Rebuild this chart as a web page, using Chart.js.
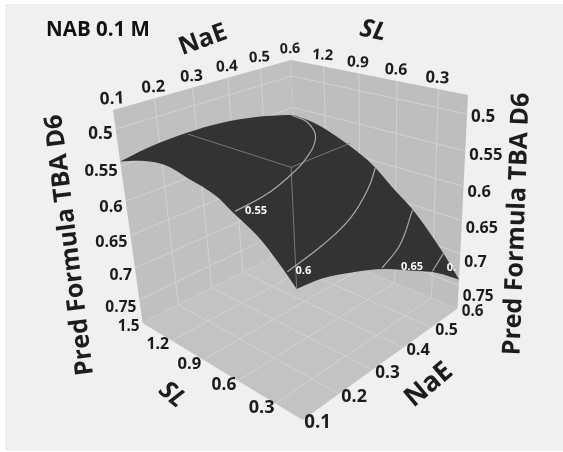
<!DOCTYPE html>
<html>
<head>
<meta charset="utf-8">
<script src="https://cdn.jsdelivr.net/npm/chart.js@4/dist/chart.umd.js"></script>
<style>
  html, body { margin: 0; background: #fff; }
  #panel { position: absolute; left: 5px; top: 4px; width: 558px; height: 447px; background: #f0f0f0; }
  #c { position: absolute; left: 0; top: 0; filter: blur(0.35px); }
</style>
</head>
<body>
<div id="panel"></div>
<canvas id="c" width="563" height="452"></canvas>
<script>
const naeTicks = [0.1, 0.2, 0.3, 0.4, 0.5, 0.6];
const slTicks = [1.5, 1.2, 0.9, 0.6, 0.3];
const predTicks = [0.5, 0.55, 0.6, 0.65, 0.7, 0.75];

// surface edges
const backNaE = [0.1, 0.17, 0.273, 0.373, 0.483, 0.581, 0.6];
const backPred = [0.544, 0.538, 0.535, 0.537, 0.546, 0.559, 0.562];
const rightSL = [1.5, 1.34, 1.16, 0.98, 0.79, 0.62, 0.46, 0.3, 0.19, 0.1];
const rightPred = [0.562, 0.565, 0.574, 0.588, 0.607, 0.634, 0.658, 0.691, 0.717, 0.741];
const leftSL = [1.5, 1.25, 1.06, 0.87, 0.66, 0.53, 0.35, 0.22, 0.1];
const leftPred = [0.544, 0.53, 0.525, 0.531, 0.539, 0.552, 0.57, 0.591, 0.614];
const frontNaE = [0.1, 0.165, 0.245, 0.338, 0.429, 0.514, 0.6];
const frontPred = [0.614, 0.619, 0.633, 0.654, 0.681, 0.707, 0.741];

// contours
const c55NaE = [0.1, 0.183, 0.271, 0.358, 0.469, 0.535, 0.555];
const c55SL = [0.51, 0.54, 0.62, 0.73, 0.94, 1.18, 1.39];
const c60NaE = [0.104, 0.216, 0.333, 0.469, 0.571];
const c60SL = [0.17, 0.23, 0.33, 0.52, 0.7];
const c65NaE = [0.329, 0.426, 0.578];
const c65SL = [0.1, 0.19, 0.42];
const c70NaE = [0.497, 0.578];
const c70SL = [0.1, 0.18];

const naeMin = 0.1, naeMax = 0.6, slMin = 0.1, slMax = 1.5, predTop = 0.475, predBottom = 0.788;

// view: far top corner and its three neighbours, with perspective weights
const O = [291, 60], PA = [113, 110], PC = [468, 95], PG = [299, 244];
const wa = -0.175, wb = -0.17, wc = 0.105;

function weights(nae, sl, pred) {
  const u = (naeMax - nae) / (naeMax - naeMin);
  const v = (slMax - sl) / (slMax - slMin);
  const z = (pred - predTop) / (predBottom - predTop);
  return { u, v, z, w: 1 + wa * u + wb * v + wc * z };
}

function project(nae, sl, pred) {
  const { u, v, z, w } = weights(nae, sl, pred);
  const at = i => (O[i] + u * ((1 + wa) * PA[i] - O[i]) + v * ((1 + wb) * PC[i] - O[i]) + z * ((1 + wc) * PG[i] - O[i])) / w;
  return { x: at(0), y: at(1) };
}

const pts = (list) => list.map(p => project(p[0], p[1], p[2]));

const shape = (data, color, tension) => ({ data, showLine: true, fill: 'shape', tension: tension || 0, backgroundColor: color, borderColor: color, borderWidth: 0, pointRadius: 0 });
const line = (data, color, width, tension) => ({ data, showLine: true, fill: false, tension: tension || 0, borderColor: color, borderWidth: width, pointRadius: 0 });

const WALL = '#c0c0c0', GRID = '#d2d2d2', CONTOUR = '#a9a9a9', EDGE = '#777777';
const layers = [];

// walls and floor
layers.push(shape(pts([[naeMin, slMax, predTop], [naeMax, slMax, predTop], [naeMax, slMax, predBottom], [naeMin, slMax, predBottom]]), WALL));
layers.push(shape(pts([[naeMax, slMax, predTop], [naeMax, slMin, predTop], [naeMax, slMin, predBottom], [naeMax, slMax, predBottom]]), '#bebebe'));
layers.push(shape(pts([[naeMin, slMax, predBottom], [naeMax, slMax, predBottom], [naeMax, slMin, predBottom], [naeMin, slMin, predBottom]]), '#c3c3c3'));

// grid on the walls and the floor
naeTicks.slice(1, -1).forEach(n => {
  layers.push(line(pts([[n, slMax, predTop], [n, slMax, predBottom], [n, slMin, predBottom]]), GRID, 1));
});
slTicks.slice(1).forEach(s => {
  layers.push(line(pts([[naeMax, s, predTop], [naeMax, s, predBottom], [naeMin, s, predBottom]]), GRID, 1));
});
predTicks.forEach(p => {
  layers.push(line(pts([[naeMin, slMax, p], [naeMax, slMax, p], [naeMax, slMin, p]]), GRID, 1));
});

// surface: corners are doubled so the curve stays sharp there
const backEdge = backNaE.map((n, i) => [n, slMax, backPred[i]]);
const rightEdge = rightSL.map((s, i) => [naeMax, s, rightPred[i]]);
const frontEdge = frontNaE.map((n, i) => [n, slMin, frontPred[i]]).reverse();
const leftEdge = leftSL.map((s, i) => [naeMin, s, leftPred[i]]).reverse();
const surface = [...backEdge, ...rightEdge, rightEdge[rightEdge.length - 1], ...frontEdge, frontEdge[frontEdge.length - 1], ...leftEdge];
layers.push(shape(pts(surface), '#333333', 0.35));

// front box edges, seen over the surface only
layers.push(line(pts([[naeMin, slMin, predTop], [naeMin, 0.83, predTop]]), EDGE, 1));
layers.push(line(pts([[naeMin, slMin, predTop], [0.24, slMin, predTop]]), EDGE, 1));
layers.push(line(pts([[naeMin, slMin, predTop], [naeMin, slMin, 0.614]]), EDGE, 1));

// contours
const contour = (nae, sl, pred) => line(pts(nae.map((n, i) => [n, sl[i], pred])), CONTOUR, 1.2, 0.4);
layers.push(contour(c55NaE, c55SL, 0.55));
layers.push(contour(c60NaE, c60SL, 0.6));
layers.push(contour(c65NaE, c65SL, 0.65));
layers.push(contour(c70NaE, c70SL, 0.7));

const TXT = '#1c1c1c', FAM = '"Open Sans", sans-serif';

const textPlugin = {
  id: 'text3d',
  afterDatasetsDraw(chart) {
    const { ctx, scales: { x, y } } = chart;
    const put = (s, p, dx, dy, font, color, align, rot) => {
      ctx.save();
      ctx.translate(x.getPixelForValue(p.x) + dx, y.getPixelForValue(p.y) + dy);
      ctx.rotate((rot || 0) * Math.PI / 180);
      ctx.font = font; ctx.fillStyle = color;
      ctx.textAlign = align || 'center'; ctx.textBaseline = 'middle';
      ctx.fillText(s, 0, 0);
      ctx.restore();
    };
    // tick labels grow towards the viewer
    const tickAt = (s, nae, sl, pred, dx, dy, align, rot) => {
      const size = (14.2 / weights(nae, sl, pred).w).toFixed(1);
      put(s, project(nae, sl, pred), dx, dy, 'bold ' + size + 'px ' + FAM, TXT, align, rot);
    };
    predTicks.forEach((p, i) => {
      tickAt(String(p), naeMin, slMax, p, -3, 5 + 3 * i / 5, 'right');
      tickAt(String(p), naeMax, slMin, p, 4, 3 + 8 * i / 5, 'left');
    });
    naeTicks.forEach(n => {
      tickAt(String(n), n, slMax, predTop, -1, -11, 'center', -3);
      tickAt(String(n), n, slMin, predBottom, 15, 3, 'center');
    });
    slTicks.forEach(s => {
      if (s !== slMax) tickAt(String(s), naeMax, s, predTop, -1, -11, 'center', 3);
      tickAt(String(s), naeMin, s, predBottom, -14, 4, 'center');
    });
    // contour labels
    const small = 'bold 11px ' + FAM;
    put('0.55', project(c55NaE[0], c55SL[0], 0.55), 21, -1, small, '#ffffff');
    put('0.6', project(c60NaE[0], c60SL[0], 0.6), 16, -1, small, '#ffffff');
    put('0.65', project(c65NaE[0], c65SL[0], 0.65), 30, -1, small, '#ffffff');
    put('0.', project(c70NaE[0], c70SL[0], 0.7), 19, -3, small, '#ffffff');
    // titles
    const at = (px, py) => ({ x: px, y: py });
    put('NAB 0.1 M', at(98, 30), 0, 0, 'bold 20.5px ' + FAM, '#111');
    put('NaE', at(203, 40), 0, 0, 'bold 25px ' + FAM, TXT, 'center', -20);
    put('SL', at(373, 31), 0, 0, 'italic bold 25px ' + FAM, TXT, 'center', 12);
    put('SL', at(172, 395), 0, 0, 'italic bold 25px ' + FAM, TXT, 'center', 40);
    put('NaE', at(429, 385), 0, 0, 'bold 27px ' + FAM, TXT, 'center', -40);
    put('Pred Formula TBA D6', at(70, 245), 0, 0, 'bold 25px ' + FAM, TXT, 'center', -97);
    put('Pred Formula TBA D6', at(517, 224), 0, 0, 'bold 25px ' + FAM, TXT, 'center', -88);
  }
};

new Chart(document.getElementById('c'), {
  type: 'scatter',
  data: { datasets: layers.reverse() },
  options: {
    responsive: false,
    animation: false,
    layout: { padding: 0 },
    plugins: { legend: { display: false }, tooltip: { enabled: false } },
    scales: {
      x: { type: 'linear', min: 0, max: 563, display: false },
      y: { type: 'linear', min: 0, max: 452, reverse: true, display: false }
    }
  },
  plugins: [textPlugin]
});
</script>
</body>
</html>
